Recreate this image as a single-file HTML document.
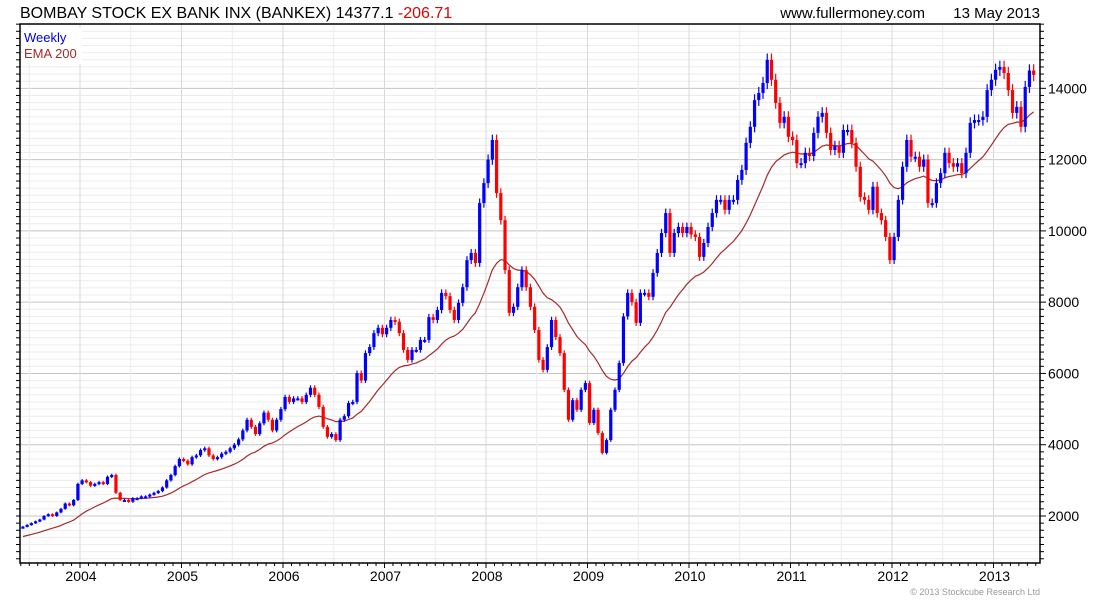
<!DOCTYPE html>
<html><head><meta charset="utf-8"><style>
body{margin:0;background:#fff;}
svg{display:block;font-family:"Liberation Sans",sans-serif;}
</style></head><body>
<svg id="chart" width="1100" height="600" viewBox="0 0 1100 600" xmlns="http://www.w3.org/2000/svg">
<rect width="1100" height="600" fill="#fff"/>
<text x="20" y="18" font-size="16" fill="#000">BOMBAY STOCK EX BANK INX (BANKEX) 14377.1 <tspan fill="#e00000">-206.71</tspan></text>
<text x="925" y="18" font-size="15" fill="#000" text-anchor="end">www.fullermoney.com</text>
<text x="1040" y="18" font-size="15" fill="#000" text-anchor="end">13 May 2013</text>
<g id="grid"></g>
<g id="ema"></g>
<g id="bars"></g>
<rect x="20" y="24" width="1020" height="539" fill="none" stroke="#000" stroke-width="1.5"/>
<g id="axes"></g>
<rect x="22" y="28" width="60" height="36" fill="#fff"/>
<text x="24" y="42" font-size="13" fill="#0000dd">Weekly</text>
<text x="24" y="58" font-size="13" fill="#a52a2a">EMA 200</text>
<text x="1040" y="595" font-size="9" fill="#999" text-anchor="end">© 2013 Stockcube Research Ltd</text>
</svg>
<script>
const years = [2003,2004,2005,2006,2007,2008,2009,2010,2011,2012,2013];
const yearStartSlot = [10,0,0,0,0,0,0,0,0,0,0];
const closes2003 = [1700,1750,1800,1850,1900,2000,2050,2000,2100,2200,2350,2300,2450,2900];
const closes2004 = [3000,2950,2850,2900,2950,2900,3100,3150,2650,2450,2450,2400,2500,2500,2550,2550,2600,2650,2700,2800,3000,3150,3400,3600];
const closes2005 = [3550,3450,3650,3700,3850,3900,3700,3600,3650,3750,3800,3900,4000,4150,4400,4700,4500,4300,4600,4900,4700,4400,4700,5000];
const closes2006 = [5340,5200,5300,5300,5200,5400,5600,5400,5060,4500,4220,4300,4130,4700,4800,5170,5200,6010,5800,6570,6740,7130,7280,7100];
const closes2007 = [7280,7500,7450,7130,6660,6380,6660,6660,6940,6940,7580,7500,7780,8260,8170,7780,7500,7980,8420,9180,9380,9100,10780,11340];
const closes2008 = [12000,12550,11060,10300,8900,7700,7870,8420,8900,8420,7870,7220,6380,6100,6740,7500,7020,6570,5540,4700,5250,4980,5540,5730];
const closes2009 = [4610,4980,4330,3770,4130,4980,5540,6290,7600,8260,8000,7420,8260,8260,8150,8820,9380,9940,10500,9380,9940,10110,9940,10110];
const closes2010 = [9900,9830,9270,9660,10110,10500,10870,10870,10590,10870,10870,11430,11710,12470,12920,13670,13870,14150,14800,14240,13590,13030,13200,12640];
const closes2011 = [12550,11900,11900,12190,12100,12750,13200,13310,12750,12270,12380,12190,12830,12830,12470,11800,10950,10870,10590,11240,10500,10300,9830,9180];
const closes2012 = [9830,10870,11800,12550,12080,12080,11800,12000,10780,10780,11340,11620,12190,11900,11800,11900,11620,12190,13030,13110,13110,13200,13950,14240];
const closes2013 = [14520,14600,14430,13950,13310,13480,12920,14040,14500,14377];
const yTicks = [2000,4000,6000,8000,10000,12000,14000];
const xTickLabels = ["2004","2005","2006","2007","2008","2009","2010","2011","2012","2013"];

const NS="http://www.w3.org/2000/svg";
const L=20,R=1040,T=24,B=563;
function xScale(t){return 80+(t-2004)*101.5;}
function yScale(v){return 516-(v-2000)*0.03564;}
function mk(tag,attrs,parent){const e=document.createElementNS(NS,tag);for(const k in attrs)e.setAttribute(k,attrs[k]);parent.appendChild(e);return e;}
const grid=document.getElementById('grid'),axes=document.getElementById('axes'),bars=document.getElementById('bars'),emaG=document.getElementById('ema');
for(let v=800;v<=15800;v+=200){const y=yScale(v);if(y<T||y>B)continue;const major=v%2000===0;
 const g=mk('line',{x1:L,x2:R,y1:y,y2:y,stroke:major?'#c4c4c4':'#ececec','stroke-width':1},grid);
 
 
 const tk=mk('line',{x1:R,x2:R+(major?6:4),y1:y,y2:y,stroke:'#000'},axes);
 
 
 const tl=mk('line',{x1:L-4,x2:L,y1:y,y2:y,stroke:'#000'},axes);
 
 }
yTicks.forEach(v=>{const t=mk('text',{x:1048,y:yScale(v)+5,'font-size':14,fill:'#000'},axes);t.textContent=v;
 
 });
for(let t=2003.5;t<=2013.5;t+=0.5){const x=xScale(t);if(x<L||x>R)continue;const yr=Number.isInteger(t);
 const g=mk('line',{x1:x,x2:x,y1:T,y2:B,stroke:yr?'#d8d8d8':'#ececec'},grid);
 
 }
for(let m=0;m<12*11;m++){const x=xScale(2003+m/12);if(x<L||x>R)continue;
 const tk=mk('line',{x1:x,x2:x,y1:B,y2:B+(m%12===0?5:3),stroke:'#000'},axes);
 
 }
xTickLabels.forEach(s=>{const t=mk('text',{x:xScale(+s)+1,y:581,'font-size':14,fill:'#000','text-anchor':'middle'},axes);t.textContent=s;
 
 });
const all=[closes2003,closes2004,closes2005,closes2006,closes2007,closes2008,closes2009,closes2010,closes2011,closes2012,closes2013];
const pts=[];
all.forEach((arr,yi)=>arr.forEach((c,k)=>pts.push({t:years[yi]+(yearStartSlot[yi]+k+0.5)/24,c})));
let prev=pts[0].c*0.98;let ema=1400;const emaPts=[];
pts.forEach(p=>{const o=prev,c=p.c;const hi=Math.max(o,c)*1.012,lo=Math.min(o,c)*0.988;const x=xScale(p.t);
 const col=c>=o?'#0000ff':'#ff0000';
 const w=mk('line',{x1:x,x2:x,y1:yScale(hi),y2:yScale(lo),stroke:col,'stroke-width':1.2},bars);
 
 
 const yt=yScale(Math.max(o,c)),yb=yScale(Math.min(o,c));
 const r=mk('rect',{x:x-1.6,y:yt,width:3.2,height:Math.max(2,yb-yt),fill:col},bars);
 
 
 ema=ema+0.085*(c-ema);emaPts.push(x.toFixed(1)+','+yScale(ema).toFixed(1));prev=c;});
const pl=mk('polyline',{points:emaPts.join(' '),fill:'none',stroke:'#a52a2a','stroke-width':1.2},emaG);


</script>
</body></html>
